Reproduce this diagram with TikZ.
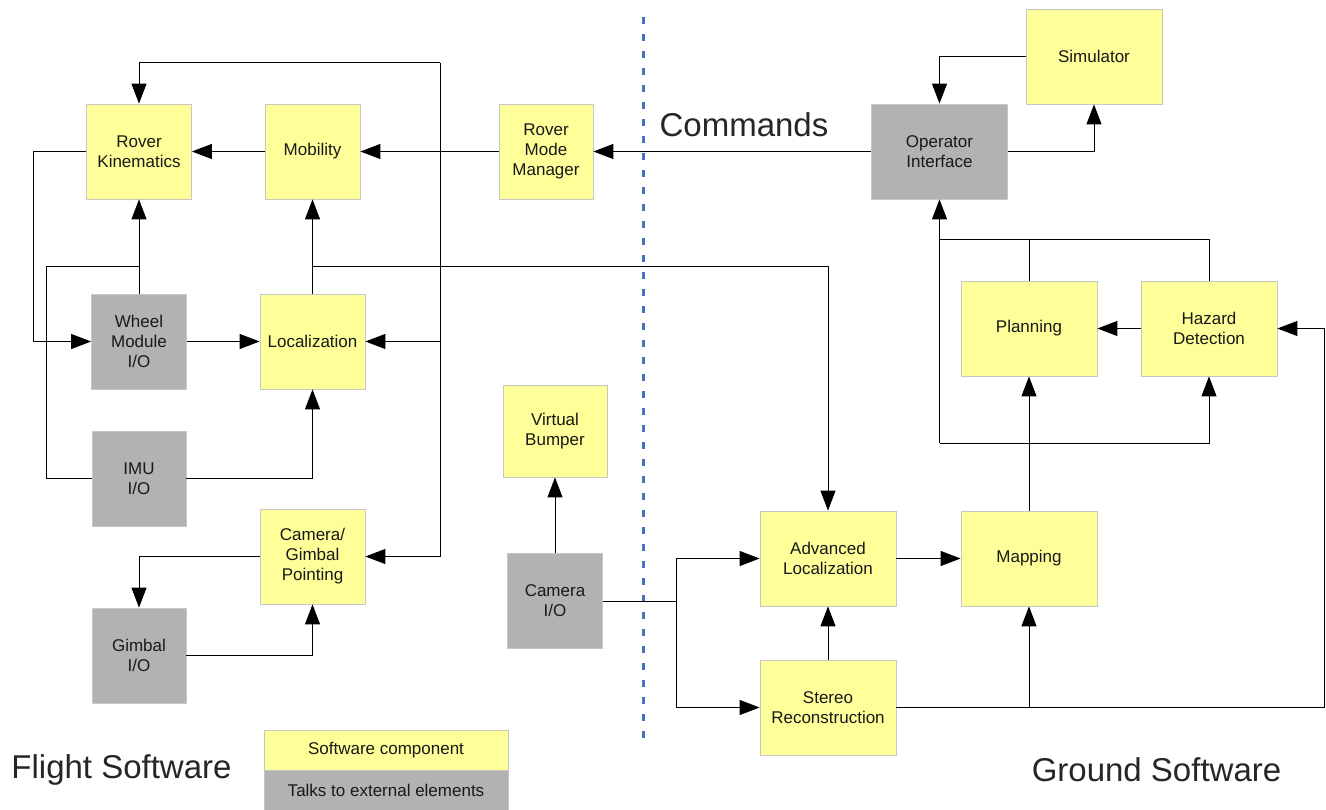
\documentclass[tikz,border=0pt]{standalone}
\usepackage{fontspec}
\setmainfont{Liberation Sans}
\usepackage{tikz}
\usetikzlibrary{arrows.meta}

\definecolor{swyellow}{RGB}{255,255,153}
\definecolor{extgray}{RGB}{178,178,178}
\definecolor{divblue}{RGB}{68,114,196}
\newcommand{\boxfont}{\fontsize{17}{20}\selectfont}
\newcommand{\bigfont}{\fontsize{33}{40}\selectfont}

\begin{document}
\begin{tikzpicture}[x=1pt,y=-1pt, line width=1pt,
    sw/.style={draw=black!22, line width=0.8pt, fill=swyellow, minimum height=95pt,
      inner sep=0pt, align=center, text=black!90, font=\boxfont},
    ext/.style={sw, fill=extgray},
    arr/.style={-{Triangle[length=20pt,width=15pt]}}]
  \useasboundingbox (0,0) rectangle (1326,810);

  % flight software
  \node [sw, minimum width=105pt] (rk) at (139,151.5) {Rover\\Kinematics};
  \node [sw, minimum width=95pt] (mob) at (312.5,151.5) {Mobility};
  \node [sw, minimum width=94pt] (rmm) at (546,151.5) {Rover\\Mode\\Manager};
  \node [ext, minimum width=95pt] (wheel) at (139,341.5) {Wheel\\Module\\I/O};
  \node [sw, minimum width=105pt] (loc) at (312.5,341.5) {Localization};
  \node [ext, minimum width=94pt] (imu) at (139,478.5) {IMU\\I/O};
  \node [sw, minimum width=105pt] (cgp) at (312.5,556.5) {Camera/\\Gimbal\\Pointing};
  \node [ext, minimum width=94pt] (gimbal) at (139,655.5) {Gimbal\\I/O};
  \node [sw, minimum width=104pt, minimum height=92pt] (vb) at (555,431) {Virtual\\Bumper};
  \node [ext, minimum width=95pt] (camio) at (555,601) {Camera\\I/O};

  % ground software
  \node [ext, minimum width=136pt] (oi) at (939.5,151.5) {Operator\\Interface};
  \node [sw, minimum width=136pt] (sim) at (1094,56.5) {Simulator};
  \node [sw, minimum width=136pt] (plan) at (1029,328.5) {Planning};
  \node [sw, minimum width=136pt] (haz) at (1209,328.5) {Hazard\\Detection};
  \node [sw, minimum width=136pt] (advloc) at (828,558.5) {Advanced\\Localization};
  \node [sw, minimum width=136pt] (map) at (1029,558.5) {Mapping};
  \node [sw, minimum width=136pt] (stereo) at (828,707.5) {Stereo\\Reconstruction};

  % legend and titles
  \node [sw, minimum width=244pt, minimum height=40pt] (legsw) at (386,750) {Software component};
  \node [ext, minimum width=244pt, minimum height=40pt] (legext) at (386,790) {Talks to external elements};
  \node [font=\bigfont, text=black!85] (flight) at (121.5,770) {Flight Software};
  \node [font=\bigfont, text=black!85] (ground) at (1156.5,770) {Ground Software};
  \node [font=\bigfont, text=black!85] (cmds) at (744,125) {Commands};

  \draw [divblue, line width=3pt, dash pattern=on 7pt off 10pt] (643,17) -- (643,738);

  \coordinate (bt) at (440,63);
  \coordinate (bb) at (440,556.5);
  \coordinate (lk) at (33,151.5);
  \coordinate (li) at (46,267);
  \coordinate (j1) at (139,267);
  \coordinate (j2) at (312.5,267);
  \coordinate (j3) at (676,601);
  \coordinate (j4) at (939.5,443);
  \coordinate (j5) at (939.5,240);
  \coordinate (re) at (1324,707.5);

  \draw [arr] (oi) -- (rmm);
  \draw [arr] (rmm) -- (mob);
  \draw [arr] (mob) -- (rk);
  \draw [arr] (bt) -| (rk);
  \draw (bt) -- (bb);
  \draw [arr] (bt |- loc) -- (loc);
  \draw [arr] (bb) -- (cgp);
  \draw [arr] (rk) -- (lk) |- (wheel);
  \draw [arr] (wheel) -- (loc);
  \draw [arr] (wheel) -- (rk);
  \draw (imu) -| (li) -- (j1);
  \draw [arr] (imu) -| (loc);
  \draw [arr] (loc) -- (mob);
  \draw [arr] (j2) -| (advloc);
  \draw [arr] (cgp) -| (gimbal);
  \draw [arr] (gimbal) -| (cgp);
  \draw [arr] (camio) -- (vb);
  \draw (camio) -- (j3);
  \draw [arr] (j3) |- (advloc);
  \draw [arr] (j3) |- (stereo);
  \draw [arr] (advloc) -- (map);
  \draw [arr] (stereo) -- (advloc);
  \draw [arr] (stereo) -- (re) |- (haz);
  \draw [arr] (map |- stereo) -- (map);
  \draw [arr] (map) -- (plan);
  \draw [arr] (j4) -| (haz);
  \draw [arr] (j4) -- (oi);
  \draw (plan) |- (j5);
  \draw (haz) |- (j5);
  \draw [arr] (haz) -- (plan);
  \draw [arr] (sim) -| (oi);
  \draw [arr] (oi) -| (sim);
\end{tikzpicture}
\end{document}
